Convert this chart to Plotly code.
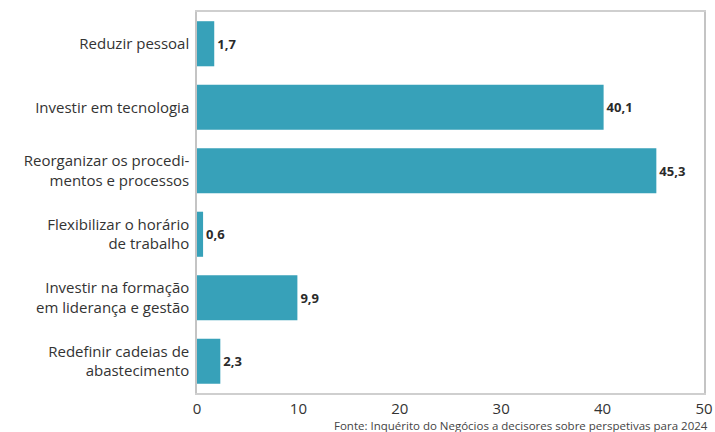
import plotly.graph_objects as go

categories = [
    "Reduzir pessoal",
    "Investir em tecnologia",
    "Reorganizar os procedi-<br>mentos e processos",
    "Flexibilizar o horário<br>de trabalho",
    "Investir na formação<br>em liderança e gestão",
    "Redefinir cadeias de<br>abastecimento",
]
values = [1.7, 40.1, 45.3, 0.6, 9.9, 2.3]
x_ticks = [0, 10, 20, 30, 40, 50]
source = "Fonte: Inquérito do Negócios a decisores sobre perspetivas para 2024"

labels = [f"{v:.1f}".replace(".", ",") for v in values]

fig = go.Figure(go.Bar(
    y=categories, x=values, orientation="h",
    marker=dict(color="#37A1B9", line=dict(width=0)),
    width=0.71,
    text=labels, textposition="outside", cliponaxis=False,
    textfont=dict(family="Open Sans", size=13, color="#2a2a2a", weight="bold"),
))

fig.update_layout(
    width=715, height=432,
    margin=dict(l=197, r=11, t=12, b=39),
    paper_bgcolor="white", plot_bgcolor="white",
    font=dict(family="Open Sans", color="#333333"),
    showlegend=False,
    xaxis=dict(range=[0, 50], tickvals=x_ticks, showgrid=False, zeroline=False,
               showline=True, mirror=True, linecolor="#cfcfcf", linewidth=1.5,
               ticks="", automargin=False, ticklabelstandoff=1,
               tickfont=dict(size=15, color="#333333")),
    yaxis=dict(autorange="reversed", showgrid=False, zeroline=False,
               showline=True, mirror=True, linecolor="#c4c4c4", linewidth=1.5,
               ticks="", ticklabelstandoff=3, automargin=False,
               tickfont=dict(size=15, color="#333333")),
    annotations=[dict(text=source, x=1.012, xref="paper", y=-0.06, yref="paper",
                      xanchor="right", yanchor="top", showarrow=False,
                      font=dict(family="Open Sans", size=11.5, color="#444444"))],
)

fig.write_html(
    "out.html",
    config={"displayModeBar": False},
    post_script="document.body.style.margin='0';document.body.style.overflow='hidden';",
)
